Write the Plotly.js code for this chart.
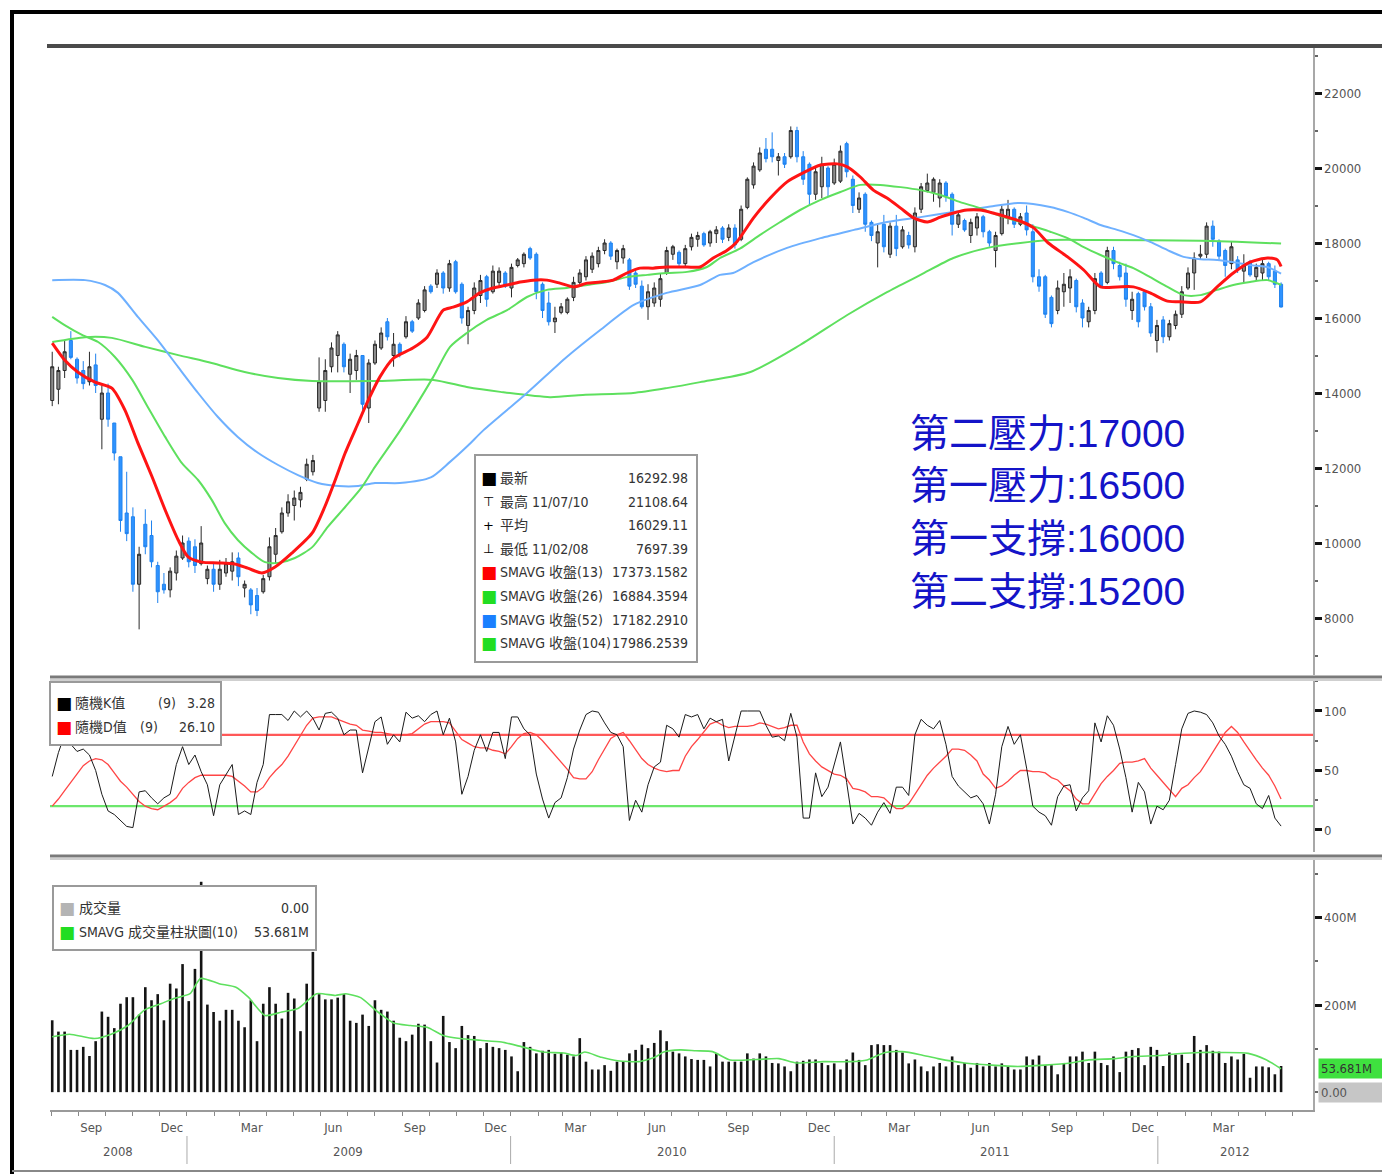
<!DOCTYPE html>
<html><head><meta charset="utf-8">
<script src="https://cdn.plot.ly/plotly-3.0.1.min.js"></script>
<style>html,body{margin:0;padding:0;background:#fff;}#chart{width:1382px;height:1174px;}</style>
</head><body><div id="chart"></div>
<script>
// ---------------- DATA ----------------
const startDate = '2008-08-02'; // first weekly bar
const priceOpen = [13800,14100,14600,15400,14900,14600,14300,14750,13300,14000,
13200,12300,10800,10700,8900,10500,10200,9400,8900,8750,
9200,9600,10050,9900,9450,9050,9300,8900,9200,9250,
9600,8800,8750,8600,8700,9100,9700,10300,10800,11000,
11150,11700,11900,13600,13800,14700,15000,15300,14500,14600,
15000,13600,14800,15200,15900,15000,15300,15500,15900,16000,
16200,16850,16900,17200,16800,17500,16900,15800,16200,16600,
17100,16700,16950,17200,16800,17400,17450,17850,17700,16900,
16400,15900,16150,16150,16550,16950,17100,17300,17450,17800,
18000,17500,17600,17550,17200,16850,16300,16400,16500,17200,
17700,17750,17450,17900,18100,18250,18000,18250,18400,18150,
18400,18100,18950,19550,19950,20500,20500,20200,20300,20300,
21000,20300,20100,19300,19500,20000,19600,19650,20650,19700,
18900,19300,18550,18000,18500,17700,18450,17900,18200,17900,
18900,19400,19350,19200,19600,19300,18500,18600,18200,18400,
18700,18300,17800,18250,18700,18900,18500,18800,18300,17100,
17100,16550,16200,16700,16800,17000,16400,15900,16200,17200,
16950,17800,17400,17200,16200,16650,16700,16300,15400,15950,
15500,15800,16100,16800,17200,17650,17700,18450,18050,17800,
17450,17550,17250,17500,17100,17200,17450,17250,16900];
const priceHigh = [15100,14700,15400,15650,14950,14850,15100,15050,14200,14250,
13200,12300,11900,10950,9900,10900,10600,9500,9200,9350,
9800,10200,10150,10100,10450,9400,9480,9550,9600,9750,
9750,9000,8800,8800,9150,10150,10400,10950,11300,11400,
11500,12250,12350,14950,14900,15350,15650,15350,15050,15150,
15000,14900,15400,15750,16000,15600,15350,16050,15950,16500,
16850,16900,17300,17250,17550,17550,16950,16300,16950,17150,
17150,17400,17350,17250,17450,17600,17750,17900,17750,16950,
16700,16300,16400,16550,17100,17300,17650,17750,17900,18100,
18050,17850,17950,17600,17300,17000,16900,16950,17200,17900,
17950,17800,17950,18250,18300,18300,18350,18450,18450,18500,
18500,19000,19750,20150,20550,20800,20950,20400,20400,21108.64,
21100,20450,20150,20000,20300,20050,20250,20600,20700,19800,
19350,19350,18600,18500,18750,18550,18750,18450,18300,18950,
19600,19850,19750,19700,19650,19350,18800,18650,18650,18800,
18750,18350,18300,19000,19150,18950,18800,19000,18500,17300,
17150,16600,17000,17200,17300,17050,16500,16300,17200,17250,
17900,17900,17500,17450,16700,16700,16750,16400,15950,16050,
15950,16200,16850,17350,17750,17950,18550,18600,18100,17850,
18050,17650,17700,17550,17450,17550,17500,17400,16950];
const priceLow = [13650,13700,14400,14900,14250,14100,14200,14000,12500,13100,
12200,10300,10050,8700,7697.39,9700,9350,8400,8650,8550,
9000,9550,9350,9200,9400,8900,8700,8750,9100,9000,
8850,8550,8100,8050,8650,9000,9450,10250,10700,10600,
10950,11650,11800,13500,13500,14550,14550,14550,14000,14350,
13550,13200,14750,15150,15400,14700,14950,15450,15600,15950,
16150,16650,16800,16650,16700,16650,15850,15300,16100,16400,
16300,16650,16800,16800,16550,17350,17350,17550,16500,16000,
15800,15600,16100,16100,16450,16900,17000,17200,17350,17700,
17550,17300,17450,16750,16800,16250,15950,16300,16300,17150,
17550,17350,17350,17800,17900,17900,17900,18000,18000,18050,
17850,18050,18900,19450,19900,20150,20150,19800,20000,20250,
20150,19550,19000,19150,19200,19250,19550,19600,19750,18800,
18800,18300,18050,17350,17750,17600,17650,17850,17850,17750,
18800,19350,19100,18950,19100,18200,18400,18300,18000,18200,
18150,17900,17350,18200,18500,18400,18450,18200,16950,16700,
16000,15750,16100,16300,16400,16150,15750,15750,16100,16800,
16900,17300,17000,16300,15950,15750,16200,15500,15080,15330,
15400,15700,16000,16750,16750,17550,17600,17900,17550,17100,
17300,17200,16950,17100,17000,17000,17000,16800,16280];
const priceClose = [14700,14600,15100,14950,14400,14250,14700,14200,14000,13300,
12400,10600,10250,8900,9700,9900,9500,8700,8750,9250,
9650,10000,9500,9400,10000,9300,8900,9300,9450,9500,
9100,8900,8350,8200,9050,9900,10200,10800,11100,11200,
11350,12100,12200,14300,14600,15200,15550,14700,14900,15000,
13700,14800,15300,15600,15500,15300,15050,15900,15650,16400,
16750,16700,17200,16800,17450,16700,16000,16200,16800,17000,
16500,17250,17250,16850,17350,17550,17700,17600,16700,16200,
15900,16000,16300,16500,16950,17200,17550,17650,17800,18000,
17650,17800,17850,16850,16900,16300,16700,16800,17050,17800,
17900,17450,17850,18150,18200,17950,18300,18350,18100,18400,
17950,18900,19700,20050,20400,20250,20300,20300,20100,21000,
20300,19700,19300,19900,20100,19500,20100,20450,19900,19000,
19200,18500,18200,18300,17900,18450,17850,18350,17950,18800,
19500,19600,19700,19600,19250,18500,18750,18350,18550,18700,
18300,18000,18200,18900,18900,18500,18700,18350,17100,16850,
16100,15850,16800,16900,17100,16300,16000,16200,17050,16850,
17800,17450,17100,16500,16500,15900,16300,15600,15800,15500,
15850,16100,16700,17200,17600,17700,18450,18100,17650,17400,
17900,17300,17400,17150,17350,17450,17100,16900,16292.98];

// moving averages, sampled (week index, value)
const ma13Idx = [0,2,4.1,6.9,9.6,11.7,13.8,16.1,18.2,20.3,21.9,24.1,26.7,29.4,31.5,33.8,35.9,38.6,41.9,43.9,45.6,47.2,49.3,50.7,52.8,55,58.1,60.4,63,64.6,66.8,68.9,71,73.3,75.4,77.5,79.7,81.8,84,86.2,88.3,90.4,92.6,94.7,96.8,99,102.3,104.4,106.5,108.7,110.3,113,115.7,118.4,121,123.8,126.5,128.1,130.2,132.3,134.5,136.7,138.8,141,143.1,145.2,147.4,149.5,151.6,153.9,156,158.1,160.5,163.6,166.2,168.9,171.6,174.2,176.9,179.7,182.3,185,187.7,190.3,193,195.8,197.4,198];
const ma13Val = [15330,14880,14560,14290,14130,13550,12670,11760,10880,10080,9630,9490,9470,9440,9330,9200,9360,9730,10270,10960,11680,12400,13200,13730,14430,14930,15200,15490,16210,16290,16430,16670,16800,16880,16960,17010,17010,16930,16830,16930,16960,17010,17200,17330,17330,17360,17360,17360,17600,17800,18030,18670,19200,19630,19870,20080,20110,20030,19760,19410,19200,18930,18670,18560,18690,18800,18880,18880,18800,18690,18580,18410,18000,17630,17280,16830,16830,16830,16670,16450,16430,16430,16830,17200,17490,17600,17550,17373];
const ma26Idx = [0,2,4.8,7.4,10.1,12.9,15.4,18.2,20.9,23.5,25.7,27.8,29.9,32.2,34.3,36.4,39.1,41.9,44.4,47.2,49.9,52,56.1,61.4,64.1,66.8,70,73.3,76.5,79.7,82.9,86.2,89.4,92.6,95.9,99,102.3,105.5,107.6,110.8,114,117.3,120.5,123.8,127,130.2,133.4,136.7,139.9,143.1,146.3,149.5,152.8,156,158,160.8,163.6,166.2,168.9,171.6,174.2,176.9,179.7,182.3,185,187.7,190.3,193,195.8,198];
const ma26Val = [16030,15810,15550,15360,14960,14350,13630,12830,12130,11680,11150,10530,10080,9730,9490,9470,9600,9890,10430,10960,11490,12030,13010,14430,15230,15600,15950,16210,16560,16750,16800,16880,16960,17090,17150,17200,17230,17360,17600,17850,18210,18560,18880,19150,19360,19550,19550,19490,19410,19280,19090,18930,18720,18560,18450,18300,18130,17890,17680,17490,17330,17090,16830,16610,16610,16750,16880,16960,17010,16884];
const ma52Idx = [0,5.3,8.5,10.6,13.8,17,20.3,23.5,26.7,29.9,33.2,36.4,39.6,42.8,46.1,49.3,52,56,61,64,67,69.5,76.5,82.9,88.3,93.7,99,104.4,107.6,109.7,113,118.4,123.8,129.2,134.5,139.9,145.2,150.7,156,160.8,163.6,166.2,168.9,171.6,174.2,176.9,179.7,182.3,185,187.7,190.3,193,195.8,198];
const ma52Val = [17010,17010,16880,16670,16030,15410,14690,14000,13360,12830,12400,12080,11810,11600,11520,11520,11600,11600,11750,12150,12600,13010,14000,14960,15680,16350,16670,16880,17150,17200,17490,17870,18130,18350,18560,18690,18830,18960,19070,18960,18830,18670,18480,18350,18210,18030,17810,17630,17570,17550,17490,17410,17360,17182];
const ma104Idx = [0,5.3,9.6,15,20.3,25.7,31,36.4,41.9,52,61.4,66.8,72.2,80.2,85.5,93.6,99,104.4,112.5,120.5,128.1,134.5,139.9,145.2,150.7,156,160.8,168.9,185,198];
const ma104Val = [15360,15490,15470,15230,15010,14800,14560,14400,14320,14320,14350,14160,14030,13890,13950,14000,14130,14290,14560,15280,16080,16690,17150,17600,17870,18000,18080,18080,18060,17986];

// stochastic (9)
const stochK = [45,65,80,72,66,68,63,50,30,16,
13,8,3,2,32,33,27,22,27,30,
55,70,55,63,49,38,12,38,46,55,
13,16,13,40,55,97,97,97,92,100,
95,100,94,84,98,99,94,80,84,84,
48,70,91,95,72,80,74,99,94,96,
91,97,100,80,94,74,30,45,67,80,
66,82,82,60,95,95,85,80,47,26,
10,23,27,44,68,84,97,100,99,90,
82,80,70,8,25,15,38,53,57,88,
85,78,97,95,97,85,94,91,93,58,
80,100,100,100,100,88,78,79,75,98,
78,10,10,48,28,36,55,74,40,5,
14,10,4,15,23,14,36,36,29,80,
93,88,85,92,72,45,37,32,27,29,
22,5,30,70,87,72,80,52,20,15,
12,4,28,37,38,16,27,33,90,74,
96,88,68,44,15,40,32,5,20,17,
25,55,85,98,100,99,97,90,79,72,
62,49,38,35,22,18,29,10,3.28];
const stochD = [20,26,33,40,47,54,58,60,59,55,
48,41,36,30,24,20,18,17,20,23,
27,35,40,44,46,46,46,46,46,45,
41,37,32,32,36,44,50,55,62,71,
79,88,94,95,95,95,93,91,89,88,
84,83,82,82,81,80,80,80,81,85,
89,91,91,91,90,83,76,73,70,69,
69,67,66,64,70,77,81,82,80,75,
69,63,57,51,44,43,43,49,59,68,
77,80,82,75,68,60,55,52,50,49,
50,50,62,70,76,83,89,91,88,86,
87,87,87,88,90,89,87,85,86,88,
88,74,64,58,53,50,47,46,43,35,
34,32,28,28,27,22,18,18,22,30,
38,46,52,57,62,68,68,67,63,58,
47,42,35,37,41,46,50,50,49,49,
48,44,42,37,33,26,22,22,31,39,
45,50,56,57,57,58,60,52,46,40,
34,28,35,38,44,49,57,65,73,82,
87,82,74,66,59,52,46,37,26.1];
const stochLevels = [80, 20];

// volume (millions)
const volume = [165,139,139,97,97,104,83,117,185,173,
147,203,218,218,178,241,211,225,165,249,
238,294,209,283,483,201,184,164,189,189,
164,149,211,117,203,241,203,169,228,215,
140,249,322,225,213,213,217,225,164,159,
178,152,211,189,185,164,125,117,132,157,
155,117,68,175,115,101,152,131,129,101,
113,104,101,97,82,48,115,104,89,95,
97,88,91,86,82,124,70,52,52,62,
49,70,70,89,97,109,101,113,142,117,
93,89,82,76,74,74,59,89,70,70,
70,70,89,77,89,82,67,66,59,48,
70,72,75,75,67,62,66,52,75,91,
74,62,108,110,108,108,97,91,66,75,
59,48,59,67,59,82,62,67,56,67,
59,67,59,66,59,52,52,82,75,84,
62,62,41,67,82,82,93,67,93,67,
62,82,46,93,97,101,62,104,97,60,
91,86,86,67,129,97,108,95,93,67,
82,75,88,33,59,59,57,41,60];
const volMaIdx = [0,2.8,6.8,9.5,12.2,14.9,17.5,19.6,22.2,23.9,26.9,29.6,31.6,34.3,37,39.6,42.6,45.6,47.3,49.7,52.3,55,57.7,60.4,63,65.7,69,72.4,75.7,79.1,82.4,84.4,85.8,88.5,91.1,94.5,97.1,98.5,101.2,103.7,106.4,109.2,113.5,117.1,119.9,124.2,128.5,131.3,134.2,137,139.9,142.7,147,151.3,155.6,159.9,164.1,167,171.3,174.1,178.4,181.3,184.8,188.4,192.7,195.5,198];
const volMaVal = [127,133,123,133,153,189,203,215,226,261,249,241,218,176,184,192,226,222,226,217,186,159,153,149,130,123,119,115,104,92,90,84,92,80,72,70,80,92,97,95,93,74,75,77,67,70,70,74,91,93,86,77,67,62,59,62,67,74,77,82,84,88,91,91,89,75,53.681];

// axis labels
const priceTicks = [8000,10000,12000,14000,16000,18000,20000,22000];
const stochTicks = [0,50,100];
const volTicks = [200,400];
const volTickText = ['200M','400M'];
const monthTickDates = ['2008-09-15','2008-12-15','2009-03-15','2009-06-15','2009-09-15','2009-12-15','2010-03-15','2010-06-15','2010-09-15','2010-12-15','2011-03-15','2011-06-15','2011-09-15','2011-12-15','2012-03-15'];
const monthTickText = ['Sep','Dec','Mar','Jun','Sep','Dec','Mar','Jun','Sep','Dec','Mar','Jun','Sep','Dec','Mar'];
const yearLabels = ['2008','2009','2010','2011','2012'];
const yearLabelDates = ['2008-10-15','2009-07-02','2010-07-02','2011-07-01','2012-03-28'];
const yearBreaks = ['2009-01-01','2010-01-01','2011-01-01','2012-01-01'];

// legends / notes
const legSymbols = ['■','⊤','+','⊥','■','■','■','■'];
const legSymColors = ['#000','#000','#000','#000','#ff0000','#22dd22','#1a7fff','#22dd22'];
const legLabels = ['最新','最高 11/07/10','平均','最低 11/02/08','SMAVG 收盤(13)','SMAVG 收盤(26)','SMAVG 收盤(52)','SMAVG 收盤(104)'];
const legValues = ['16292.98','21108.64','16029.11','7697.39','17373.1582','16884.3594','17182.2910','17986.2539'];
const stochLegLabels = ['隨機K值','隨機D值'];
const stochLegParams = ['(9)','(9)'];
const stochLegValues = ['3.28','26.10'];
const stochLegColors = ['#000','#ff0000'];
const volLegLabels = ['成交量','SMAVG 成交量柱狀圖(10)'];
const volLegValues = ['0.00','53.681M'];
const volLegColors = ['#b4b4b4','#22dd22'];
const levelNames = ['第二壓力','第一壓力','第一支撐','第二支撐'];
const levelValues = [17000,16500,16000,15200];
const lastVolume = 0;
const lastVolMa = 53.681;

// ---------------- DRAW ----------------
const DAY = 864e5;
const t0 = Date.parse(startDate + 'T00:00:00Z');
function wk(k){ return new Date(t0 + k*7*DAY).toISOString().slice(0,19).replace('T',' '); }
const dates = priceClose.map((_,i)=>wk(i));

const PLOT_L=50, PLOT_R=1313, PLOT_T=48, PLOT_B=1110;
const PW = PLOT_R-PLOT_L, PH = PLOT_B-PLOT_T;
const PX = x => (x-PLOT_L)/PW;
const PY = y => (PLOT_B-y)/PH;

const AXFONT = 'DejaVu Sans Condensed, DejaVu Sans, sans-serif';
const LEGFONT = 'DejaVu Sans Condensed, Noto Sans CJK TC, sans-serif';
const GREEN = '#5ee05e', BLUE = '#6eb0ff', RED = '#ff1414';

const traces = [
  {type:'candlestick', x:dates, open:priceOpen, high:priceHigh, low:priceLow, close:priceClose,
   xaxis:'x', yaxis:'y', whiskerwidth:0, hoverinfo:'skip',
   increasing:{line:{color:'#2a2a2a', width:1}, fillcolor:'#8c8c8c'},
   decreasing:{line:{color:'#1f82ee', width:1}, fillcolor:'#2f93ff'}},
  {type:'scatter', mode:'lines', x:ma104Idx.map(wk), y:ma104Val, yaxis:'y', line:{color:GREEN, width:2, shape:'spline', smoothing:0.7}, hoverinfo:'skip'},
  {type:'scatter', mode:'lines', x:ma52Idx.map(wk), y:ma52Val, yaxis:'y', line:{color:BLUE, width:2, shape:'spline', smoothing:0.7}, hoverinfo:'skip'},
  {type:'scatter', mode:'lines', x:ma26Idx.map(wk), y:ma26Val, yaxis:'y', line:{color:GREEN, width:2, shape:'spline', smoothing:0.7}, hoverinfo:'skip'},
  {type:'scatter', mode:'lines', x:ma13Idx.map(wk), y:ma13Val, yaxis:'y', line:{color:RED, width:3, shape:'spline', smoothing:0.7}, hoverinfo:'skip'},
  {type:'scatter', mode:'lines', x:dates, y:stochD, yaxis:'y2', line:{color:'#ff4545', width:1.3}, hoverinfo:'skip'},
  {type:'scatter', mode:'lines', x:dates, y:stochK, yaxis:'y2', line:{color:'#1a1a1a', width:1}, hoverinfo:'skip'},
  {type:'bar', x:dates, y:volume, yaxis:'y3', width:7*DAY*0.42, marker:{color:'#141414', line:{width:0}}, hoverinfo:'skip'},
  {type:'scatter', mode:'lines', x:volMaIdx.map(wk), y:volMaVal, yaxis:'y3', line:{color:GREEN, width:1.6, shape:'spline', smoothing:0.6}, hoverinfo:'skip'}
];

const yCommon = {side:'right', anchor:'x', showgrid:false, zeroline:false, showline:true, linecolor:'#a8a8a8', linewidth:1.5,
  ticks:'outside', ticklen:7, tickwidth:3, tickcolor:'#111', tickfont:{family:AXFONT, size:13, color:'#555'}, fixedrange:true};

const shapes = [];
const annotations = [];
function note(o){ annotations.push(Object.assign({xref:'paper', yref:'paper', showarrow:false, xanchor:'center', yanchor:'middle'}, o)); }

// frame and panel separators
shapes.push({type:'line', xref:'paper', yref:'paper', x0:PX(10), x1:PX(1390), y0:PY(12), y1:PY(12), line:{color:'#000', width:4}, layer:'above'});
shapes.push({type:'line', xref:'paper', yref:'paper', x0:PX(12), x1:PX(12), y0:PY(10), y1:PY(1180), line:{color:'#000', width:4}, layer:'above'});
shapes.push({type:'line', xref:'paper', yref:'paper', x0:PX(12), x1:PX(1390), y0:PY(1171), y1:PY(1171), line:{color:'#888', width:2}, layer:'above'});
shapes.push({type:'line', xref:'paper', yref:'paper', x0:PX(47), x1:PX(1390), y0:PY(46), y1:PY(46), line:{color:'#4a4a4a', width:4}, layer:'above'});
[[677,680],[856,859]].forEach(([a,b])=>{
  shapes.push({type:'line', xref:'paper', yref:'paper', x0:PX(50), x1:PX(1390), y0:PY(a), y1:PY(a), line:{color:'#7a7a7a', width:3}, layer:'above'});
  shapes.push({type:'line', xref:'paper', yref:'paper', x0:PX(50), x1:PX(1390), y0:PY(b), y1:PY(b), line:{color:'#cfcfcf', width:2}, layer:'above'});
});
// stochastic levels
const levelColors = ['rgba(255,70,70,0.9)','rgba(100,230,100,0.95)'];
stochLevels.forEach((v,i)=>shapes.push({type:'line', xref:'paper', yref:'y2', x0:0, x1:1, y0:v, y1:v, line:{color:levelColors[i], width:2.2}, layer:'below'}));
// year separators and labels
yearBreaks.forEach(d=>shapes.push({type:'line', xref:'x', yref:'paper', x0:d, x1:d, y0:PY(1136), y1:PY(1164), line:{color:'#aaa', width:1}}));
yearLabels.forEach((t,i)=>note({xref:'x', x:yearLabelDates[i], y:PY(1151), text:t, font:{family:AXFONT, size:13, color:'#555'}}));

// price legend
shapes.push({type:'rect', xref:'paper', yref:'paper', x0:PX(475), x1:PX(697), y0:PY(662), y1:PY(455), fillcolor:'#fff', line:{color:'#9a9a9a', width:2}, layer:'above'});
legLabels.forEach((t,r)=>{
  const y = PY(478 + r*23.6);
  note({x:PX(489), y:y, text:legSymbols[r], font:{family:'DejaVu Sans', size: r<4 && r>0 ? 13 : 17, color:legSymColors[r]}});
  note({x:PX(498), y:y, xanchor:'left', text:t, font:{family:LEGFONT, size:14, color:'#333'}});
  note({x:PX(690), y:y, xanchor:'right', text:legValues[r], font:{family:LEGFONT, size:14, color:'#333'}});
});
// stochastic legend
shapes.push({type:'rect', xref:'paper', yref:'paper', x0:PX(50), x1:PX(221), y0:PY(745), y1:PY(682), fillcolor:'#fff', line:{color:'#9a9a9a', width:2}, layer:'above'});
const stochParamX = [167, 149];
stochLegLabels.forEach((t,r)=>{
  const y = PY(703 + r*24);
  note({x:PX(64), y:y, text:'■', font:{family:'DejaVu Sans', size:17, color:stochLegColors[r]}});
  note({x:PX(73), y:y, xanchor:'left', text:t, font:{family:LEGFONT, size:14, color:'#333'}});
  note({x:PX(stochParamX[r]), y:y, text:stochLegParams[r], font:{family:LEGFONT, size:14, color:'#333'}});
  note({x:PX(217), y:y, xanchor:'right', text:stochLegValues[r], font:{family:LEGFONT, size:14, color:'#333'}});
});
// volume legend
shapes.push({type:'rect', xref:'paper', yref:'paper', x0:PX(53), x1:PX(316), y0:PY(950), y1:PY(886), fillcolor:'#fff', line:{color:'#9a9a9a', width:2}, layer:'above'});
volLegLabels.forEach((t,r)=>{
  const y = PY(908 + r*24);
  note({x:PX(67), y:y, text:'■', font:{family:'DejaVu Sans', size:17, color:volLegColors[r]}});
  note({x:PX(77), y:y, xanchor:'left', text:t, font:{family:LEGFONT, size:14, color:'#333'}});
  note({x:PX(311), y:y, xanchor:'right', text:volLegValues[r], font:{family:LEGFONT, size:14, color:'#333'}});
});
// right-side value tags
note({yref:'y3', x:1, xshift:5, y:lastVolMa, xanchor:'left', text:lastVolMa.toFixed(3)+'M', width:60, align:'left', bgcolor:'#3fe03f', borderpad:2, font:{family:AXFONT, size:13, color:'#333'}});
note({yref:'y3', x:1, xshift:5, y:lastVolume, xanchor:'left', text:lastVolume.toFixed(2), width:60, align:'left', bgcolor:'#c6c6c6', borderpad:2, font:{family:AXFONT, size:13, color:'#555'}});
// support / resistance notes
levelNames.forEach((n,i)=>note({x:PX(908), y:PY(433 + i*52.7), xanchor:'left', text:n+':'+levelValues[i],
  font:{family:'Liberation Sans, Arial, Noto Sans CJK TC, sans-serif', size:39, color:'#1414c8'}}));

const layout = {
  width:1382, height:1174,
  margin:{l:PLOT_L, r:1382-PLOT_R, t:PLOT_T, b:1174-PLOT_B},
  paper_bgcolor:'#ffffff', plot_bgcolor:'#ffffff',
  showlegend:false, hovermode:false,
  font:{family:AXFONT, size:13, color:'#444'},
  xaxis:{type:'date', range:['2008-07-30 12:00','2012-06-24'], anchor:'y3', showgrid:false, zeroline:false,
    showline:true, linecolor:'#9a9a9a', linewidth:2,
    tickmode:'array', tickvals:monthTickDates, ticktext:monthTickText, ticks:'outside', ticklen:4, tickcolor:'rgba(0,0,0,0)',
    tickfont:{family:AXFONT, size:13, color:'#555'},
    minor:{dtick:'M1', tick0:'2008-08-01', ticks:'outside', ticklen:4, tickcolor:'#888', tickwidth:1},
    rangeslider:{visible:false}, fixedrange:true},
  yaxis:Object.assign({}, yCommon, {domain:[PY(675),1], range:[6480,23200], tickmode:'array', tickvals:priceTicks, ticktext:priceTicks.map(String),
    minor:{dtick:1000, tick0:0, ticks:'outside', ticklen:3, tickwidth:2, tickcolor:'#666'}}),
  yaxis2:Object.assign({}, yCommon, {domain:[PY(852),PY(681)], range:[-18.5,125.2], tickmode:'array', tickvals:stochTicks, ticktext:stochTicks.map(String),
    minor:{dtick:25, tick0:0, ticks:'outside', ticklen:3, tickwidth:2, tickcolor:'#666'}}),
  yaxis3:Object.assign({}, yCommon, {domain:[0,PY(860)], range:[-41,533], tickmode:'array', tickvals:volTicks, ticktext:volTickText,
    minor:{dtick:100, tick0:0, ticks:'outside', ticklen:3, tickwidth:2, tickcolor:'#666'}}),
  shapes:shapes, annotations:annotations
};

Plotly.newPlot('chart', traces, layout, {displayModeBar:false, staticPlot:true});
</script></body></html>
